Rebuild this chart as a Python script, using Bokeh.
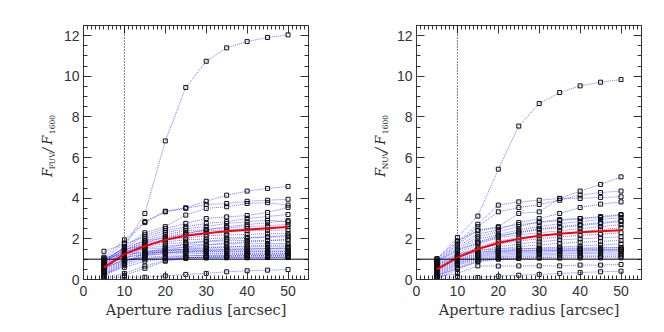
import math
from bokeh.plotting import figure
from bokeh.models import Span, LinearAxis, SingleIntervalTicker, Range1d, CustomJSTickFormatter, Label
from bokeh.layouts import row
from bokeh.embed import file_html
from bokeh.resources import INLINE

# ---------------- data ----------------
APERTURE = [5, 10, 15, 20, 25, 30, 35, 40, 45, 50]

FUV_CURVES = [
    [0.85, 1.61, 3.25, 6.82, 9.45, 10.74, 11.40, 11.71, 11.91, 12.04],
    [1.10, 1.95, 2.85, 3.36, 3.53, 3.85, 4.15, 4.35, 4.48, 4.58],
    [1.00, 1.80, 2.80, 3.33, 3.50, 3.69, 3.74, 3.85, 3.90, 3.95],
    [0.90, 1.60, 2.30, 2.60, 3.17, 3.50, 3.58, 3.74, 3.78, 3.66],
    [0.80, 1.50, 2.20, 2.50, 2.76, 3.00, 3.08, 3.15, 3.30, 3.55],
    [1.39, 1.75, 2.10, 2.40, 2.60, 2.76, 2.85, 3.00, 3.10, 3.20],
    [0.70, 1.40, 2.00, 2.30, 2.50, 2.60, 2.76, 2.84, 2.92, 2.84],
    [0.60, 1.30, 1.90, 2.20, 2.40, 2.45, 2.55, 2.60, 2.65, 2.71],
    [0.50, 1.20, 1.80, 2.10, 2.30, 2.40, 2.45, 2.50, 2.55, 2.59],
    [0.95, 1.55, 1.90, 2.05, 2.20, 2.30, 2.35, 2.40, 2.42, 2.43],
    [0.85, 1.45, 1.80, 1.95, 2.05, 2.15, 2.20, 2.22, 2.25, 2.26],
    [0.75, 1.35, 1.70, 1.85, 1.95, 2.00, 2.05, 2.07, 2.09, 2.10],
    [1.00, 1.50, 1.65, 1.75, 1.82, 1.87, 1.90, 1.92, 1.93, 1.94],
    [0.65, 1.25, 1.55, 1.65, 1.70, 1.73, 1.75, 1.76, 1.77, 1.77],
    [0.90, 1.40, 1.50, 1.55, 1.58, 1.60, 1.60, 1.61, 1.61, 1.61],
    [0.55, 1.15, 1.40, 1.46, 1.48, 1.50, 1.50, 1.51, 1.52, 1.52],
    [0.80, 1.30, 1.38, 1.42, 1.44, 1.44, 1.44, 1.44, 1.44, 1.44],
    [0.45, 1.05, 1.30, 1.35, 1.37, 1.38, 1.38, 1.38, 1.38, 1.38],
    [0.70, 1.10, 1.22, 1.25, 1.27, 1.28, 1.28, 1.28, 1.28, 1.28],
    [1.05, 1.25, 1.30, 1.33, 1.34, 1.35, 1.35, 1.35, 1.35, 1.35],
    [0.40, 0.95, 1.10, 1.15, 1.17, 1.18, 1.18, 1.19, 1.19, 1.19],
    [0.60, 0.95, 1.05, 1.07, 1.08, 1.08, 1.08, 1.08, 1.08, 1.08],
    [0.35, 0.90, 1.25, 1.45, 1.60, 1.70, 1.78, 1.85, 1.90, 1.98],
    [0.30, 0.85, 1.30, 1.55, 1.75, 1.88, 1.97, 2.03, 2.10, 2.18],
    [0.25, 0.80, 1.20, 1.40, 1.50, 1.55, 1.60, 1.65, 1.68, 1.70],
    [0.20, 0.75, 1.15, 1.30, 1.38, 1.43, 1.47, 1.50, 1.52, 1.55],
    [0.15, 0.70, 1.00, 1.10, 1.15, 1.20, 1.22, 1.23, 1.24, 1.25],
    [0.10, 0.30, 0.66, 0.95, 1.08, 1.10, 1.12, 1.12, 1.13, 1.13],
    [0.04, 0.13, 0.11, 0.18, 0.25, 0.30, 0.38, 0.43, 0.46, 0.49],
    [0.05, 0.20, 0.55, 0.90, 1.05, 1.12, 1.15, 1.17, 1.18, 1.20],
    [0.50, 1.00, 1.60, 2.00, 2.25, 2.45, 2.60, 2.70, 2.80, 2.90],
    [0.30, 0.60, 0.90, 1.02, 1.05, 1.06, 1.07, 1.07, 1.08, 1.09],
]
FUV_MEAN = [0.60, 1.25, 1.65, 1.95, 2.15, 2.28, 2.38, 2.45, 2.52, 2.58]

NUV_CURVES = [
    [1.00, 2.07, 3.12, 5.43, 7.55, 8.66, 9.20, 9.53, 9.71, 9.84],
    [0.95, 1.85, 2.72, 3.66, 3.82, 3.90, 3.99, 4.35, 4.68, 5.05],
    [0.90, 1.75, 2.60, 3.33, 3.54, 3.69, 3.90, 4.15, 4.28, 4.35],
    [0.85, 1.70, 2.43, 2.60, 3.25, 3.33, 3.99, 3.99, 4.04, 4.07],
    [0.80, 1.60, 2.23, 2.45, 2.80, 3.00, 3.25, 3.54, 3.71, 3.82],
    [0.75, 1.50, 2.10, 2.35, 2.60, 2.84, 2.95, 3.00, 3.05, 3.17],
    [0.70, 1.40, 2.00, 2.20, 2.45, 2.60, 2.75, 2.85, 2.95, 3.05],
    [0.65, 1.30, 1.85, 2.15, 2.30, 2.45, 2.55, 2.65, 2.75, 2.85],
    [0.60, 1.20, 1.75, 2.05, 2.20, 2.30, 2.40, 2.50, 2.60, 2.70],
    [0.55, 1.15, 1.60, 1.90, 2.05, 2.15, 2.25, 2.35, 2.45, 2.55],
    [0.50, 1.10, 1.50, 1.75, 1.90, 2.00, 2.10, 2.17, 2.22, 2.30],
    [0.45, 1.05, 1.40, 1.60, 1.75, 1.85, 1.95, 2.00, 2.05, 2.10],
    [0.40, 1.00, 1.30, 1.50, 1.62, 1.70, 1.78, 1.83, 1.88, 1.92],
    [0.35, 0.95, 1.25, 1.40, 1.50, 1.55, 1.60, 1.65, 1.70, 1.75],
    [0.30, 0.90, 1.20, 1.35, 1.42, 1.47, 1.50, 1.52, 1.55, 1.57],
    [0.25, 0.85, 1.15, 1.30, 1.37, 1.40, 1.43, 1.45, 1.47, 1.50],
    [0.20, 0.80, 1.10, 1.25, 1.30, 1.35, 1.38, 1.40, 1.42, 1.44],
    [0.15, 0.75, 1.05, 1.18, 1.25, 1.28, 1.30, 1.32, 1.35, 1.38],
    [0.10, 0.70, 1.00, 1.12, 1.18, 1.22, 1.25, 1.27, 1.29, 1.30],
    [0.05, 0.60, 0.95, 1.08, 1.12, 1.15, 1.17, 1.19, 1.20, 1.22],
    [0.02, 0.50, 0.90, 1.02, 1.06, 1.08, 1.10, 1.12, 1.13, 1.15],
    [0.10, 0.30, 0.67, 0.66, 0.67, 0.67, 0.67, 0.71, 0.71, 0.74],
    [0.00, 0.15, 0.10, 0.16, 0.21, 0.25, 0.30, 0.34, 0.38, 0.41],
    [0.20, 0.55, 0.87, 1.00, 1.03, 1.05, 1.05, 1.06, 1.06, 1.07],
    [1.03, 1.90, 2.40, 2.55, 2.70, 2.80, 2.90, 3.00, 3.10, 3.20],
    [0.90, 1.45, 1.80, 2.10, 2.35, 2.50, 2.60, 2.70, 2.80, 2.90],
    [0.70, 1.25, 1.45, 1.50, 1.52, 1.53, 1.55, 1.55, 1.56, 1.57],
    [0.60, 1.15, 1.35, 1.40, 1.42, 1.43, 1.44, 1.45, 1.46, 1.47],
]
NUV_MEAN = [0.50, 1.08, 1.50, 1.80, 2.00, 2.15, 2.25, 2.33, 2.38, 2.42]

X_START, X_END = 0, 55
Y_START, Y_END = 0, 12.5
UNITY_LEVEL = 1.0
PSF_RADIUS = 10

AXIS_COLOR = "#333333"
TICK_FONT = "Liberation Sans"
LABEL_FONT = "DejaVu Serif"
STRIP_W, PAGE_H = 60, 332


def style_axis(ax, labels=True, standoff=6):
    ax.major_tick_in = 8
    ax.major_tick_out = 0
    ax.minor_tick_in = 4
    ax.minor_tick_out = 0
    ax.axis_line_color = AXIS_COLOR
    ax.major_tick_line_color = AXIS_COLOR
    ax.minor_tick_line_color = AXIS_COLOR
    ax.major_label_text_font = TICK_FONT
    ax.major_label_text_font_size = "14px"
    ax.major_label_text_color = "#333333"
    ax.major_label_standoff = standoff
    if not labels:
        ax.formatter = CustomJSTickFormatter(code="return ''")
        ax.major_label_standoff = 0
        ax.major_label_text_font_size = "1px"


def make_panel(curves, mean):
    p = figure(frame_width=225, frame_height=254,
               min_border_left=82 - STRIP_W, min_border_right=25,
               min_border_top=25, min_border_bottom=53,
               x_range=Range1d(X_START, X_END), y_range=Range1d(Y_START, Y_END),
               output_backend="svg", toolbar_location=None)
    p.outline_line_color = None
    p.xgrid.grid_line_color = None
    p.ygrid.grid_line_color = None
    p.background_fill_color = "white"
    p.border_fill_color = "white"

    p.xaxis.ticker = SingleIntervalTicker(interval=10, num_minor_ticks=10)
    p.yaxis.ticker = SingleIntervalTicker(interval=2, num_minor_ticks=4)
    style_axis(p.xaxis[0], standoff=6)
    style_axis(p.yaxis[0], standoff=4)
    p.xaxis.axis_label = "Aperture radius [arcsec]"
    p.xaxis.axis_label_text_font = LABEL_FONT
    p.xaxis.axis_label_text_font_style = "normal"
    p.xaxis.axis_label_text_font_size = "14.5px"
    p.xaxis.axis_label_text_color = "#333333"
    p.xaxis.axis_label_standoff = 3

    top = LinearAxis(ticker=SingleIntervalTicker(interval=10, num_minor_ticks=10))
    right = LinearAxis(ticker=SingleIntervalTicker(interval=2, num_minor_ticks=4))
    style_axis(top, labels=False)
    style_axis(right, labels=False)
    p.add_layout(top, "above")
    p.add_layout(right, "right")

    for ys in curves:
        p.line(APERTURE, ys, line_color="blue", line_alpha=0.55, line_width=1, line_dash="1 1")
    for ys in curves:
        p.scatter(APERTURE, ys, marker="square", size=4, fill_color=None,
                  line_color="#111111", line_width=1)

    p.line(APERTURE, mean, line_color="red", line_width=2)

    p.add_layout(Span(location=UNITY_LEVEL, dimension="width", line_color="black", line_width=1))
    p.add_layout(Span(location=PSF_RADIUS, dimension="height", line_color="black",
                      line_width=1, line_dash="1 2"))
    return p


def ylabel_strip(sub):
    # a bare strip (pixel-like coordinates, y pointing down) holding the rotated y label
    s = figure(width=STRIP_W, height=PAGE_H, min_border=0,
               x_range=Range1d(0, STRIP_W), y_range=Range1d(PAGE_H, 0),
               x_axis_location=None, y_axis_location=None,
               output_backend="svg", toolbar_location=None)
    s.outline_line_color = None
    s.xgrid.grid_line_color = None
    s.ygrid.grid_line_color = None
    s.border_fill_color = "white"
    s.background_fill_color = "white"
    common = dict(angle=math.pi / 2, text_color="#222222", text_align="left",
                  text_baseline="alphabetic", text_font=LABEL_FONT)
    pieces = [
        (47.0, 198, "F", "italic", "13px"),
        (51.5, 188, sub, "normal", "7.5px"),
        (47.0, 166, "/", "italic", "14px"),
        (47.0, 156, "F", "italic", "13px"),
        (51.5, 142, "1600", "normal", "7.5px"),
    ]
    for x, y, t, style, size in pieces:
        s.add_layout(Label(x=x, y=y, text=t, text_font_style=style,
                           text_font_size=size, **common))
    return s


p1 = make_panel(FUV_CURVES, FUV_MEAN)
p2 = make_panel(NUV_CURVES, NUV_MEAN)
layout = row(ylabel_strip("FUV"), p1, ylabel_strip("NUV"), p2)

open("out.html", "w").write(file_html(layout, INLINE))
